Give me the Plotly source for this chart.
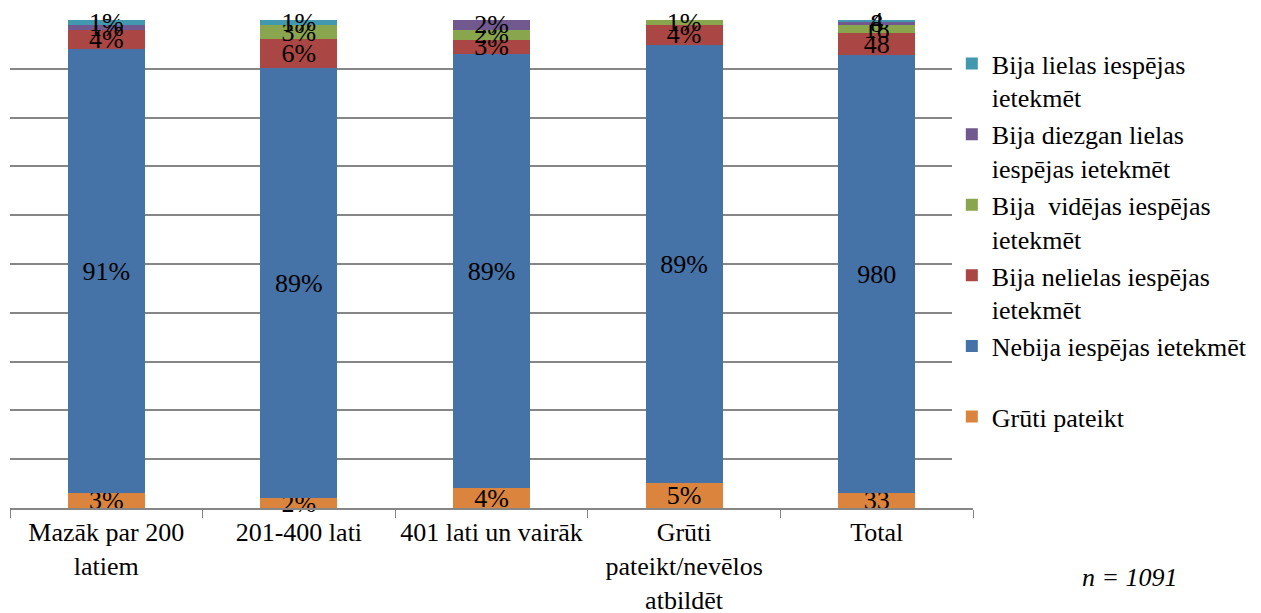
import plotly.graph_objects as go

categories = ["Mazāk par 200<br>latiem", "201-400 lati", "401 lati un vairāk",
              "Grūti<br>pateikt/nevēlos<br>atbildēt", "Total"]

# first four columns in %, "Total" in respondent counts (n = 1091)
gruti_pateikt = [3, 2, 4, 5, 33]
nebija = [91, 89, 89, 89, 980]
nelielas = [4, 6, 3, 4, 48]
videjas = [0, 3, 2, 1, 18]
diezgan_lielas = [1, 0, 2, 0, 8]
lielas = [1, 1, 0, 0, 4]

series = [
    ("Grūti pateikt<br> ", gruti_pateikt, "#DB843D"),
    ("Nebija iespējas ietekmēt<br> ", nebija, "#4572A7"),
    ("Bija nelielas iespējas<br>ietekmēt", nelielas, "#AA4643"),
    ("Bija  vidējas iespējas<br>ietekmēt", videjas, "#89A54E"),
    ("Bija diezgan lielas<br>iespējas ietekmēt", diezgan_lielas, "#71588F"),
    ("Bija lielas iespējas<br>ietekmēt", lielas, "#4198AF"),
]


def label(vals):
    out = []
    for i, v in enumerate(vals):
        if v == 0:
            out.append("")
        elif categories[i] == "Total":
            out.append(str(v))
        else:
            out.append(f"{v}%")
    return out


font = "Liberation Serif"
fsize = 26

fig = go.Figure()
for name, vals, color in series:
    fig.add_trace(go.Bar(
        x=categories, y=vals, name=name,
        marker=dict(color=color, line=dict(width=0)),
        text=label(vals),
        textposition="inside",
        insidetextanchor="middle",
        constraintext="none",
        textangle=0,
        textfont=dict(family=font, size=fsize, color="black"),
        hoverinfo="name+y",
        cliponaxis=False,
    ))

fig.update_layout(
    barmode="stack",
    barnorm="percent",
    bargap=0.6,
    width=1253, height=605,
    margin=dict(l=2, r=288, t=12, b=105, autoexpand=False),
    paper_bgcolor="white",
    plot_bgcolor="white",
    font=dict(family=font, size=fsize, color="black"),
    showlegend=True,
    legend=dict(
        x=0.978, y=0.514, xanchor="left", yanchor="middle",
        traceorder="reversed", valign="top",
        font=dict(family=font, size=fsize, color="black"),
        itemclick=False, tracegroupgap=0,
    ),
    annotations=[dict(
        text="<i>n = 1091</i>", x=1.163, y=-0.143, xref="paper", yref="paper",
        xanchor="center", yanchor="middle",
        showarrow=False, font=dict(family=font, size=fsize, color="black"),
    )],
)

fig.update_xaxes(
    showline=True, linecolor="#868686", linewidth=1.5,
    ticks="outside", tickson="boundaries", ticklen=8, tickcolor="#868686",
    tickfont=dict(family=font, size=fsize, color="black"),
    showgrid=False,
)
fig.update_yaxes(
    range=[0, 100], dtick=10, showticklabels=False,
    showgrid=True, gridcolor="#868686", gridwidth=1.5,
    zeroline=False, showline=False,
)

fig.write_html("out.html")
